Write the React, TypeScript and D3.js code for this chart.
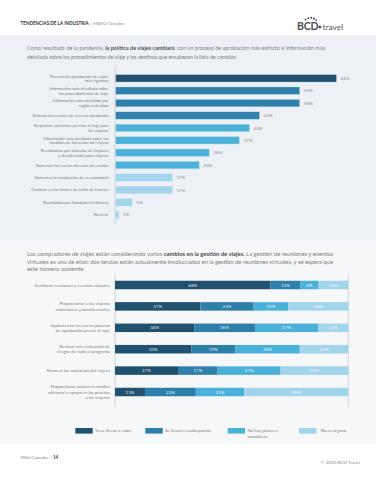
import React from "react";
import * as d3 from "d3";

const W = 376;
const H = 480;

// Chart 1 data
const policyLabels: string[][] = [
  ["Proceso de aprobación de viajes", "más riguroso"],
  ["Información más detallada sobre", "los procedimientos de viaje"],
  ["Información más detallada por", "región o destino"],
  ["Ordenar los canales de reserva aprobados"],
  ["Requisitos sanitarios previos al viaje para", "los viajeros"],
  ["Información más detallada sobre las", "medidas de bienestar del viajero"],
  ["Reembolsos por artículos de limpieza", "y desinfección para viajeros"],
  ["Fomentar los vuelos directos sin escalas"],
  ["Fomentar la conducción de su automóvil"],
  ["Cambios en los límites de tarifa de hoteles"],
  ["Reembolso por llamadas telefónicas"],
  ["No lo sé"],
];
const policyValues: number[] = [66, 55, 55, 43, 40, 37, 28, 25, 17, 17, 5, 1];
const policyColors: string[] = [
  "#22516f", "#2f7fab", "#2f7fab", "#3182af",
  "#4bb1d9", "#4bb1d9", "#4bb1d9", "#4bb1d9",
  "#a2d5eb", "#a2d5eb", "#a2d5eb", "#a2d5eb",
];

// Chart 2 data
const mgmtLabels: string[][] = [
  ["Gestionar reuniones y eventos virtuales"],
  ["Proporcionar a los viajeros", "cubrebocas y desinfectantes"],
  ["Implementar un nuevo proceso", "de aprobación previa al viaje"],
  ["Realizar una evaluación de", "riesgos de todo el programa"],
  ["Rastrear los contactos del viajero"],
  ["Proporcionar asistencia médica", "adicional o apoyo en las pruebas", "a los viajeros"],
];
const seriesKeys = ["ya", "pronto", "noPlanes", "noSeguro"];
const seriesNames: string[][] = [
  ["Ya se llevan a cabo"],
  ["Se llevará a cabo pronto"],
  ["No hay planes a", "considerar"],
  ["No es seguro"],
];
const yaValues = [68, 37, 34, 33, 27, 13];
const prontoValues = [13, 23, 26, 19, 17, 22];
const noPlanesValues = [8, 15, 27, 28, 27, 21];
const noSeguroValues = [13, 26, 13, 21, 29, 45];
const seriesColors = ["#22516f", "#2f7fab", "#4bb1d9", "#a2d5eb"];

const FONT = "Lato, 'Open Sans', sans-serif";
const TEXT = "#7b7f83";

export default function App() {
  // chart 1 scales
  const x1 = d3.scaleLinear().domain([0, 100]).range([115, 450]);
  const y1 = d3
    .scaleBand<number>()
    .domain(d3.range(policyValues.length))
    .range([72.1, 220.9])
    .paddingInner(0.395)
    .paddingOuter(0.1975);

  // chart 2 stack
  const rows = mgmtLabels.map((_, i) => ({
    ya: yaValues[i],
    pronto: prontoValues[i],
    noPlanes: noPlanesValues[i],
    noSeguro: noSeguroValues[i],
  }));
  const stacked = d3.stack<any>().keys(seriesKeys).offset(d3.stackOffsetExpand)(rows);
  const x2 = d3.scaleLinear().domain([0, 1]).range([115, 348.3]);
  const y2 = d3
    .scaleBand<number>()
    .domain(d3.range(mgmtLabels.length))
    .range([274.3, 402.7])
    .paddingInner(0.603)
    .paddingOuter(0.3015);

  const legendX = [75.3, 145.3, 227.7, 299];

  return (
    <svg
      width={W}
      height={H}
      style={{ position: "fixed", left: 0, top: 0, display: "block" }}
      fontFamily={FONT}
    >
      <rect x={0} y={0} width={W} height={H} fill="#ffffff" />
      {/* header */}
      <text x={20.5} y={25} fontSize={4.6} fill="#333" >
        <tspan fontWeight={700}>TENDENCIAS DE LA INDUSTRIA</tspan>
        <tspan fill="#8a8a8a"> / MAYO-Octubre</tspan>
      </text>
      {/* logo */}
      <g>
        <text x={297} y={30} fontSize={10.5} fontWeight={700} fill="#4d4f52" letterSpacing={-0.2}>
          BCD
        </text>
        {[
          [305.5, 19.5, 0.9],
          [308.2, 18.2, 1.0],
          [311.2, 17.8, 1.05],
          [314, 18.6, 1.05],
          [316, 20.2, 0.9],
        ].map(([cx, cy, r], i) => (
          <circle key={i} cx={cx} cy={cy} r={r} fill="#4d4f52" />
        ))}
        <circle cx={319.8} cy={27} r={1.5} fill="#4d4f52" />
        <text x={322.5} y={30} fontSize={8.4} fill="#55585b">
          travel
        </text>
      </g>

      {/* panel 1 */}
      <rect x={0} y={35} width={W} height={205} fill="#edf0f4" />
      <text x={27} y={49.5} fontSize={5.3} fill={TEXT} textLength={298} lengthAdjust="spacing">
        Como resultado de la pandemia, <tspan fontWeight={700} fill="#4a4e52">la política de viajes cambiará</tspan>, con un proceso de aprobación más estricto e información más
      </text>
      <text x={27} y={58.5} fontSize={5.3} fill={TEXT} textLength={210} lengthAdjust="spacing">
        detallada sobre los procedimientos de viaje y los destinos que encabezan la lista de cambios.
      </text>

      {/* chart 1 */}
      <line x1={115} x2={115} y1={65} y2={224} stroke="#c9ced3" strokeWidth={0.8} />
      {policyValues.map((v, i) => {
        const y = y1(i)!;
        const bw = y1.bandwidth();
        const cy = y + bw / 2;
        const lines = policyLabels[i];
        const lh = 4.6;
        const startY = cy - ((lines.length - 1) * lh) / 2 + 1.5;
        return (
          <g key={i}>
            <rect
              x={x1(0) + 0.5}
              y={y}
              width={x1(v) - x1(0)}
              height={bw}
              fill={policyColors[i]}
              stroke="#cfe6f2"
              strokeWidth={0.4}
            />
            <text x={x1(v) + 4.5} y={cy + 1.6} fontSize={4.6} fill="#8a8d90">
              {v}%
            </text>
            <text fontSize={4.2} fill={TEXT} textAnchor="end">
              {lines.map((l, j) => (
                <tspan key={j} x={108.5} y={startY + j * lh}>
                  {l}
                </tspan>
              ))}
            </text>
          </g>
        );
      })}

      {/* panel 2 */}
      <rect x={0} y={240} width={W} height={204} fill="#f5f7f9" />
      <text x={27} y={256} fontSize={5.9} fill={TEXT} textLength={306} lengthAdjust="spacing">
        Los compradores de viajes están considerando varios <tspan fontWeight={700} fill="#4a4e52">cambios en la gestión de viajes.</tspan> La gestión de reuniones y eventos
      </text>
      <text x={27} y={263.5} fontSize={5.9} fill={TEXT} textLength={306} lengthAdjust="spacing">
        virtuales es una de ellos: dos tercios están actualmente involucrados en la gestión de reuniones virtuales, y se espera que
      </text>
      <text x={27} y={271} fontSize={5.9} fill={TEXT}>
        este número aumente.
      </text>

      {/* chart 2 */}
      <line x1={115} x2={115} y1={274} y2={407} stroke="#c9ced3" strokeWidth={0.8} />
      <line x1={348.3} x2={348.3} y1={274} y2={407} stroke="#c9ced3" strokeWidth={0.8} />
      {stacked.map((s, k) => (
        <g key={k}>
          {s.map((d, i) => {
            const y = y2(i)!;
            const bw = y2.bandwidth();
            const xa = x2(d[0]);
            const xb = x2(d[1]);
            const val = (rows[i] as any)[seriesKeys[k]];
            return (
              <g key={i}>
                <rect x={xa} y={y} width={xb - xa} height={bw} fill={seriesColors[k]} />
                <text
                  x={(xa + xb) / 2}
                  y={y + bw / 2 + 1.6}
                  fontSize={4.5}
                  fill="#ffffff"
                  fillOpacity={0.9}
                  textAnchor="middle"
                >
                  {val}%
                </text>
              </g>
            );
          })}
        </g>
      ))}
      {mgmtLabels.map((lines, i) => {
        const cy = y2(i)! + y2.bandwidth() / 2;
        const lh = 5.2;
        const startY = cy - ((lines.length - 1) * lh) / 2 + 1.6;
        return (
          <text key={i} fontSize={4.4} fill={TEXT} textAnchor="end">
            {lines.map((l, j) => (
              <tspan key={j} x={110} y={startY + j * lh}>
                {l}
              </tspan>
            ))}
          </text>
        );
      })}

      {/* legend */}
      {seriesNames.map((names, k) => (
        <g key={k}>
          <rect x={legendX[k]} y={428} width={17.4} height={5.6} fill={seriesColors[k]} />
          <text fontSize={4.4} fill={TEXT}>
            {names.map((n, j) => (
              <tspan key={j} x={legendX[k] + (k === 3 ? 21.7 : 19.7)} y={432.3 + j * 6}>
                {n}
              </tspan>
            ))}
          </text>
        </g>
      ))}

      {/* footer */}
      <text x={20.5} y={458.5} fontSize={4.6} fill="#8a8a8a">
        Wild Cupcake / <tspan fontWeight={700} fill="#444">14</tspan>
      </text>
      <text x={360} y={463.5} fontSize={4.6} fill="#8a8a8a" textAnchor="end">
        © 2020 BCD Travel
      </text>
    </svg>
  );
}
